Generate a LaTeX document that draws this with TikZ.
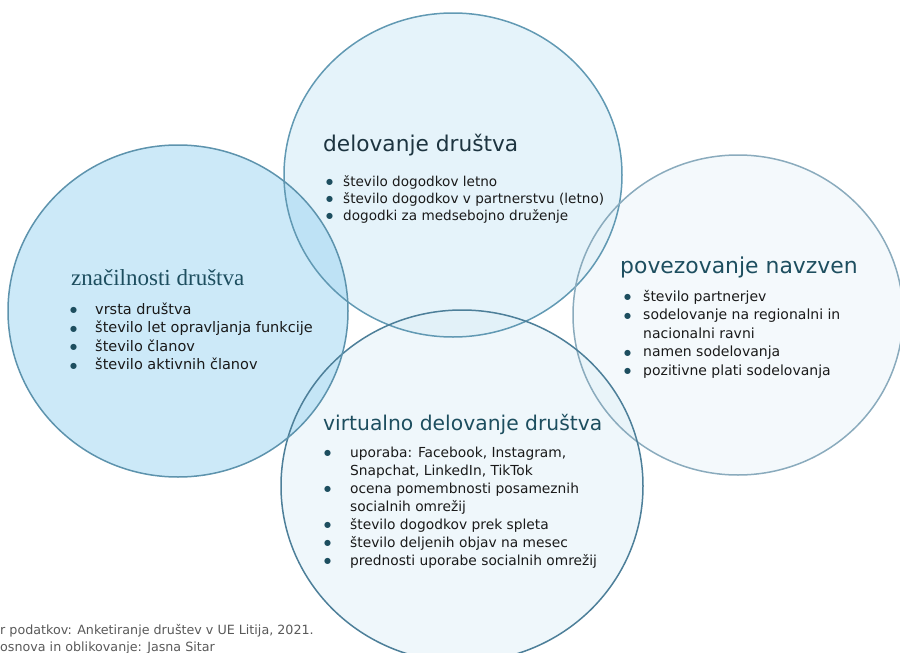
\documentclass[tikz,border=0pt]{standalone}
\usepackage{fontspec}
\setmainfont{DejaVu Sans}
\newfontfamily\ttlserif{Liberation Serif}
\usepackage{array}
\usetikzlibrary{positioning}

\definecolor{fillL}{HTML}{99D3F1}
\definecolor{fillT}{HTML}{CBE7F5}
\definecolor{fillR}{HTML}{E9F3F9}
\definecolor{fillB}{HTML}{DFEFF7}
\definecolor{ringL}{HTML}{5D93AD}
\definecolor{ringT}{HTML}{6199B3}
\definecolor{ringR}{HTML}{8AABBD}
\definecolor{ringB}{HTML}{4D7F99}
\definecolor{ttlcol}{HTML}{1D4E5F}
\definecolor{ttldark}{HTML}{1D3440}
\definecolor{dotcol}{HTML}{1D4E5F}
\definecolor{txtcol}{HTML}{1A1A1A}
\definecolor{srccol}{HTML}{595959}

\newcommand\bu{\raisebox{1.3pt}{\textcolor{dotcol}{\fontsize{8}{8}\selectfont ●}}}
\newcommand\blist[2]{\begin{tabular}[t]{@{}p{#1}@{}l@{}}#2\end{tabular}}

\tikzset{
    ring/.style={line width=1.5pt},
    ttl/.style={anchor=base west, inner sep=0pt, text=ttlcol},
    items/.style={anchor=base west, inner sep=0pt, text=txtcol},
}

\begin{document}
\begin{tikzpicture}[x=1pt,y=-1pt]
				\useasboundingbox (0,0) rectangle (900,653);
				\clip (0,0) rectangle (900,653);

				% fills
				\fill[fillT, fill opacity=0.5] (453,175) ellipse [x radius=169pt, y radius=162pt];
				\fill[fillR, fill opacity=0.5] (738,315) ellipse [x radius=165pt, y radius=160pt];
				\fill[fillB, fill opacity=0.5] (462,486) ellipse [x radius=181pt, y radius=176pt];
				\fill[fillL, fill opacity=0.5] (178,311) ellipse [x radius=170pt, y radius=166pt];

				% outlines
				\draw[ring, ringT] (453,175) ellipse [x radius=169pt, y radius=162pt];
				\draw[ring, ringR] (738,315) ellipse [x radius=165pt, y radius=160pt];
				\draw[ring, ringB] (462,486) ellipse [x radius=181pt, y radius=176pt];
				\draw[ring, ringL] (178,311) ellipse [x radius=170pt, y radius=166pt];

				% delovanje
				\node[ttl, text=ttldark, font=\fontsize{21.7}{26}\selectfont] (ttlT) at (323,151) {delovanje društva};
				\node[items, font=\fontsize{13.6}{17}\selectfont] (listT) at (326,186) {\blist{17pt}{%
					\bu & število dogodkov letno\\
					\bu & število dogodkov v partnerstvu (letno)\\
					\bu & dogodki za medsebojno druženje}};

				% znacilnosti
				\node[ttl, font=\ttlserif\fontsize{23}{27}\selectfont] (ttlL) at (71,285) {značilnosti društva};
				\node[items, font=\fontsize{14.5}{18.5}\selectfont] (listL) at (70,314) {\blist{25pt}{%
					\bu & vrsta društva\\
					\bu & število let opravljanja funkcije\\
					\bu & število članov\\
					\bu & število aktivnih članov}};

				% povezovanje
				\node[ttl, font=\fontsize{21.9}{26}\selectfont] (ttlR) at (620,273) {povezovanje navzven};
				\node[items, font=\fontsize{14}{18.5}\selectfont] (listR) at (624,301) {\blist{19pt}{%
					\bu & število partnerjev\\
					\bu & sodelovanje na regionalni in\\
					    & nacionalni ravni\\
					\bu & namen sodelovanja\\
					\bu & pozitivne plati sodelovanja}};

				% virtualno
				\node[ttl, font=\fontsize{20.3}{24}\selectfont] (ttlB) at (323,430) {virtualno delovanje društva};
				\node[items, font=\fontsize{13.8}{18}\selectfont] (listB) at (324,457) {\blist{26pt}{%
					\bu & uporaba: Facebook, Instagram,\\
					    & Snapchat, LinkedIn, TikTok\\
					\bu & ocena pomembnosti posameznih\\
					    & socialnih omrežij\\
					\bu & število dogodkov prek spleta\\
					\bu & število deljenih objav na mesec\\
					\bu & prednosti uporabe socialnih omrežij}};

				% vir
				\node[items, text=srccol, font=\fontsize{12.7}{15}\selectfont] (src1) at (0,634) {r podatkov: Anketiranje društev v UE Litija, 2021.};
				\node[items, text=srccol, font=\fontsize{12.7}{15}\selectfont] (src2) at (0,651) {osnova in oblikovanje: Jasna Sitar};
			\end{tikzpicture}
\end{document}
